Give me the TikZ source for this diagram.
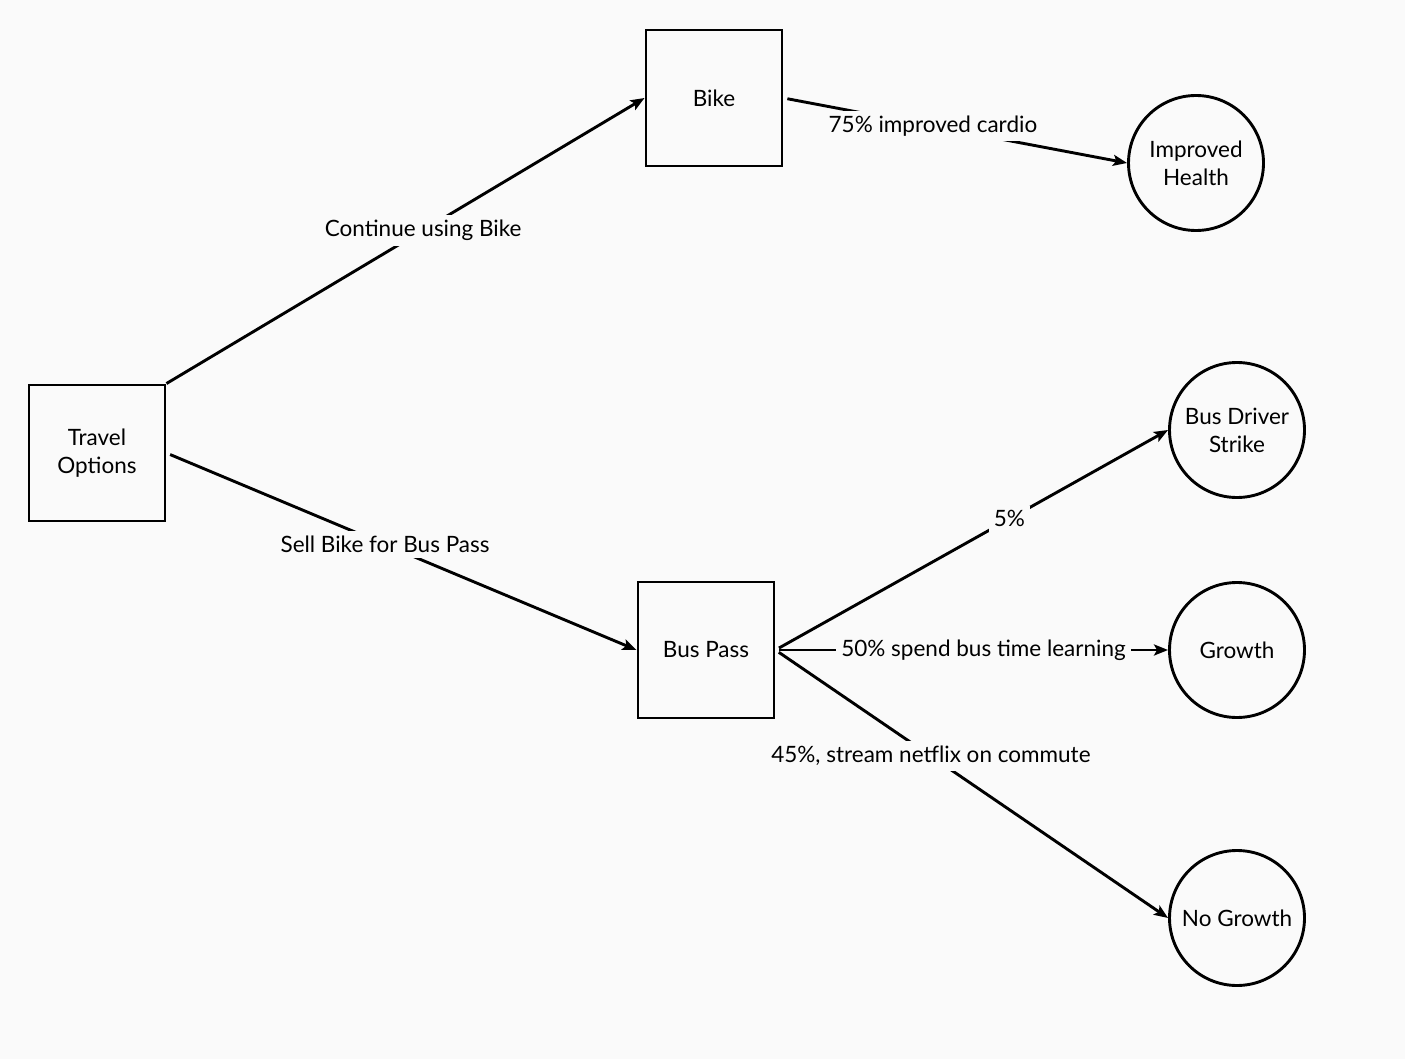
\documentclass[tikz,border=0pt]{standalone}
\usepackage{fontspec}
\setmainfont{Lato}
\usetikzlibrary{arrows.meta}
\definecolor{bg}{HTML}{FAFAFA}
\begin{document}
\begin{tikzpicture}[x=1pt,y=-1pt,
  font=\fontsize{22.5}{28}\selectfont,
  box/.style={draw, line width=2.9pt, minimum size=136pt, inner sep=0pt, align=center},
  outcome/.style={draw, circle, line width=2.9pt, minimum size=135pt, inner sep=0pt, align=center},
  conn/.style={line width=2.9pt, shorten <=4pt, -{Stealth[length=14pt,width=11pt,inset=3pt]}},
  lbl/.style={fill=bg, inner sep=5pt}]
\fill[bg] (0,0) rectangle (1405,1059);
\useasboundingbox (0,0) rectangle (1405,1059);
\node[box] (travel) at (97,453) {Travel\\Options};
\node[box] (bike) at (714,98) {Bike};
\node[box] (bus) at (706,650) {Bus Pass};
\node[outcome] (health) at (1196,163) {Improved\\Health};
\node[outcome] (strike) at (1237,430) {Bus Driver\\Strike};
\node[outcome] (growth) at (1237,650) {Growth};
\node[outcome] (nogrowth) at (1237,918) {No Growth};
\draw[conn, shorten <=0pt] (travel.north east) -- node[lbl, pos=0.537] (l1) {Continue using Bike} (bike.west);
\draw[conn] (travel.east) -- node[lbl, pos=0.465] (l2) {Sell Bike for Bus Pass} (bus.west);
\draw[conn] (bike.east) -- node[lbl, pos=0.435] (l3) {75\% improved cardio} (health.west);
\draw[conn] (bus.east) -- node[lbl, pos=0.596] (l4) {5\%} (strike.west);
\draw[conn] (bus.east) -- node[lbl, pos=0.53] (l5) {50\% spend bus time learning} (growth.west);
\draw[conn] (bus.east) -- node[lbl, pos=0.396] (l6) {45\%, stream netflix on commute} (nogrowth.west);
\end{tikzpicture}
\end{document}
